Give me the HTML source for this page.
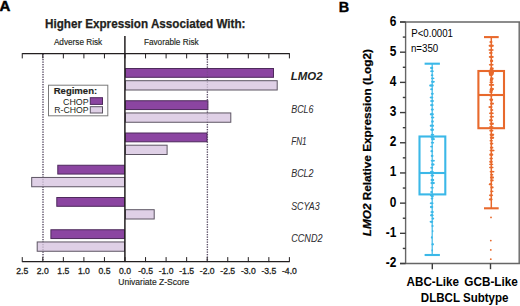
<!DOCTYPE html>
<html><head><meta charset="utf-8"><style>
html,body{margin:0;padding:0;background:#fff;width:520px;height:306px;overflow:hidden}
svg{display:block;font-family:"Liberation Sans", sans-serif}
</style></head><body>
<svg width="520" height="306" viewBox="0 0 520 306">
<text x="-0.5" y="10.8" font-size="15" font-weight="bold" fill="#000" stroke="#000" stroke-width="0.5">A</text>
<text x="45" y="27.6" font-size="11.9" font-weight="bold" fill="#231f20" stroke="#231f20" stroke-width="0.25" textLength="200.5" lengthAdjust="spacingAndGlyphs">Higher Expression Associated With:</text>
<text x="53.9" y="44.9" font-size="8.3" fill="#231f20" stroke="#231f20" stroke-width="0.15" textLength="48.3" lengthAdjust="spacingAndGlyphs">Adverse Risk</text>
<text x="143.9" y="44.9" font-size="8.3" fill="#231f20" stroke="#231f20" stroke-width="0.15" textLength="54.8" lengthAdjust="spacingAndGlyphs">Favorable Risk</text>
<line x1="43.00" y1="54" x2="43.00" y2="261" stroke="#5a4d66" stroke-width="1.3" stroke-dasharray="1.2 1.3"/>
<line x1="207.40" y1="54" x2="207.40" y2="261" stroke="#5a4d66" stroke-width="1.3" stroke-dasharray="1.2 1.3"/>
<rect x="125.50" y="68.50" width="148.00" height="8.8" fill="#8b45a1" stroke="#4e2a5c" stroke-width="1"/>
<rect x="125.50" y="80.70" width="151.70" height="9.3" fill="#dfd0e6" stroke="#5d5563" stroke-width="1"/>
<rect x="125.50" y="100.75" width="82.40" height="8.8" fill="#8b45a1" stroke="#4e2a5c" stroke-width="1"/>
<rect x="125.50" y="112.95" width="105.30" height="9.3" fill="#dfd0e6" stroke="#5d5563" stroke-width="1"/>
<rect x="125.50" y="133.00" width="81.50" height="8.8" fill="#8b45a1" stroke="#4e2a5c" stroke-width="1"/>
<rect x="125.50" y="145.20" width="41.60" height="9.3" fill="#dfd0e6" stroke="#5d5563" stroke-width="1"/>
<rect x="57.80" y="165.25" width="66.70" height="8.8" fill="#8b45a1" stroke="#4e2a5c" stroke-width="1"/>
<rect x="31.70" y="177.45" width="92.80" height="9.3" fill="#dfd0e6" stroke="#5d5563" stroke-width="1"/>
<rect x="56.80" y="197.50" width="67.70" height="8.8" fill="#8b45a1" stroke="#4e2a5c" stroke-width="1"/>
<rect x="125.50" y="209.70" width="28.70" height="9.3" fill="#dfd0e6" stroke="#5d5563" stroke-width="1"/>
<rect x="50.90" y="229.75" width="73.60" height="8.8" fill="#8b45a1" stroke="#4e2a5c" stroke-width="1"/>
<rect x="37.20" y="241.95" width="87.30" height="9.3" fill="#dfd0e6" stroke="#5d5563" stroke-width="1"/>
<text x="290.8" y="80.1" font-size="11" font-weight="bold" font-style="italic" fill="#231f20" textLength="31.8" lengthAdjust="spacingAndGlyphs">LMO2</text>
<text x="291.2" y="112.9" font-size="10" font-style="italic" fill="#2e2c2f" stroke="#2e2c2f" stroke-width="0.04" textLength="22.3" lengthAdjust="spacingAndGlyphs">BCL6</text>
<text x="291.2" y="145.1" font-size="10" font-style="italic" fill="#2e2c2f" stroke="#2e2c2f" stroke-width="0.04" textLength="15.5" lengthAdjust="spacingAndGlyphs">FN1</text>
<text x="291.2" y="177.4" font-size="10" font-style="italic" fill="#2e2c2f" stroke="#2e2c2f" stroke-width="0.04" textLength="22.3" lengthAdjust="spacingAndGlyphs">BCL2</text>
<text x="291.2" y="209.7" font-size="10" font-style="italic" fill="#2e2c2f" stroke="#2e2c2f" stroke-width="0.04" textLength="28.5" lengthAdjust="spacingAndGlyphs">SCYA3</text>
<text x="291.2" y="242.0" font-size="10" font-style="italic" fill="#2e2c2f" stroke="#2e2c2f" stroke-width="0.04" textLength="31.4" lengthAdjust="spacingAndGlyphs">CCND2</text>
<line x1="22.25" y1="53.6" x2="289.40" y2="53.6" stroke="#231f20" stroke-width="1.1"/>
<line x1="22.25" y1="261.7" x2="289.40" y2="261.7" stroke="#231f20" stroke-width="1.3"/>
<line x1="22.25" y1="53.1" x2="22.25" y2="58.4" stroke="#231f20" stroke-width="1"/>
<line x1="22.25" y1="257.1" x2="22.25" y2="262.1" stroke="#231f20" stroke-width="1"/>
<text x="22.25" y="274.4" font-size="8.6" fill="#231f20" stroke="#231f20" stroke-width="0.3" text-anchor="middle">2.5</text>
<line x1="42.80" y1="53.1" x2="42.80" y2="58.4" stroke="#231f20" stroke-width="1"/>
<line x1="42.80" y1="257.1" x2="42.80" y2="262.1" stroke="#231f20" stroke-width="1"/>
<text x="42.80" y="274.4" font-size="8.6" fill="#231f20" stroke="#231f20" stroke-width="0.3" text-anchor="middle">2.0</text>
<line x1="63.35" y1="53.1" x2="63.35" y2="58.4" stroke="#231f20" stroke-width="1"/>
<line x1="63.35" y1="257.1" x2="63.35" y2="262.1" stroke="#231f20" stroke-width="1"/>
<text x="63.35" y="274.4" font-size="8.6" fill="#231f20" stroke="#231f20" stroke-width="0.3" text-anchor="middle">1.5</text>
<line x1="83.90" y1="53.1" x2="83.90" y2="58.4" stroke="#231f20" stroke-width="1"/>
<line x1="83.90" y1="257.1" x2="83.90" y2="262.1" stroke="#231f20" stroke-width="1"/>
<text x="83.90" y="274.4" font-size="8.6" fill="#231f20" stroke="#231f20" stroke-width="0.3" text-anchor="middle">1.0</text>
<line x1="104.45" y1="53.1" x2="104.45" y2="58.4" stroke="#231f20" stroke-width="1"/>
<line x1="104.45" y1="257.1" x2="104.45" y2="262.1" stroke="#231f20" stroke-width="1"/>
<text x="104.45" y="274.4" font-size="8.6" fill="#231f20" stroke="#231f20" stroke-width="0.3" text-anchor="middle">0.5</text>
<line x1="125.00" y1="53.1" x2="125.00" y2="58.4" stroke="#231f20" stroke-width="1"/>
<line x1="125.00" y1="257.1" x2="125.00" y2="262.1" stroke="#231f20" stroke-width="1"/>
<text x="125.00" y="274.4" font-size="8.6" fill="#231f20" stroke="#231f20" stroke-width="0.3" text-anchor="middle">0.0</text>
<line x1="145.55" y1="53.1" x2="145.55" y2="58.4" stroke="#231f20" stroke-width="1"/>
<line x1="145.55" y1="257.1" x2="145.55" y2="262.1" stroke="#231f20" stroke-width="1"/>
<text x="145.55" y="274.4" font-size="8.6" fill="#231f20" stroke="#231f20" stroke-width="0.3" text-anchor="middle">-0.5</text>
<line x1="166.10" y1="53.1" x2="166.10" y2="58.4" stroke="#231f20" stroke-width="1"/>
<line x1="166.10" y1="257.1" x2="166.10" y2="262.1" stroke="#231f20" stroke-width="1"/>
<text x="166.10" y="274.4" font-size="8.6" fill="#231f20" stroke="#231f20" stroke-width="0.3" text-anchor="middle">-1.0</text>
<line x1="186.65" y1="53.1" x2="186.65" y2="58.4" stroke="#231f20" stroke-width="1"/>
<line x1="186.65" y1="257.1" x2="186.65" y2="262.1" stroke="#231f20" stroke-width="1"/>
<text x="186.65" y="274.4" font-size="8.6" fill="#231f20" stroke="#231f20" stroke-width="0.3" text-anchor="middle">-1.5</text>
<line x1="207.20" y1="53.1" x2="207.20" y2="58.4" stroke="#231f20" stroke-width="1"/>
<line x1="207.20" y1="257.1" x2="207.20" y2="262.1" stroke="#231f20" stroke-width="1"/>
<text x="207.20" y="274.4" font-size="8.6" fill="#231f20" stroke="#231f20" stroke-width="0.3" text-anchor="middle">-2.0</text>
<line x1="227.75" y1="53.1" x2="227.75" y2="58.4" stroke="#231f20" stroke-width="1"/>
<line x1="227.75" y1="257.1" x2="227.75" y2="262.1" stroke="#231f20" stroke-width="1"/>
<text x="227.75" y="274.4" font-size="8.6" fill="#231f20" stroke="#231f20" stroke-width="0.3" text-anchor="middle">-2.5</text>
<line x1="248.30" y1="53.1" x2="248.30" y2="58.4" stroke="#231f20" stroke-width="1"/>
<line x1="248.30" y1="257.1" x2="248.30" y2="262.1" stroke="#231f20" stroke-width="1"/>
<text x="248.30" y="274.4" font-size="8.6" fill="#231f20" stroke="#231f20" stroke-width="0.3" text-anchor="middle">-3.0</text>
<line x1="268.85" y1="53.1" x2="268.85" y2="58.4" stroke="#231f20" stroke-width="1"/>
<line x1="268.85" y1="257.1" x2="268.85" y2="262.1" stroke="#231f20" stroke-width="1"/>
<text x="268.85" y="274.4" font-size="8.6" fill="#231f20" stroke="#231f20" stroke-width="0.3" text-anchor="middle">-3.5</text>
<line x1="289.40" y1="53.1" x2="289.40" y2="58.4" stroke="#231f20" stroke-width="1"/>
<line x1="289.40" y1="257.1" x2="289.40" y2="262.1" stroke="#231f20" stroke-width="1"/>
<text x="289.40" y="274.4" font-size="8.6" fill="#231f20" stroke="#231f20" stroke-width="0.3" text-anchor="middle">-4.0</text>
<line x1="124.9" y1="35.9" x2="124.9" y2="262" stroke="#231f20" stroke-width="1.5"/>
<line x1="43.00" y1="54" x2="43.00" y2="261" stroke="#5a4d66" stroke-width="1.3" stroke-dasharray="1.2 1.3" opacity="0.3"/>
<line x1="207.40" y1="54" x2="207.40" y2="261" stroke="#5a4d66" stroke-width="1.3" stroke-dasharray="1.2 1.3" opacity="0.3"/>
<text x="118.3" y="284.6" font-size="8.5" fill="#231f20" stroke="#231f20" stroke-width="0.15" textLength="71" lengthAdjust="spacingAndGlyphs">Univariate Z-Score</text>
<rect x="48.5" y="85.2" width="59.3" height="30.6" fill="#fff" stroke="#7a7a7a" stroke-width="1"/>
<text x="53.7" y="93.6" font-size="9.6" font-weight="bold" fill="#231f20" stroke="#231f20" stroke-width="0.15" textLength="43.5" lengthAdjust="spacingAndGlyphs">Regimen:</text>
<text x="88.6" y="104.6" font-size="9.4" fill="#231f20" text-anchor="end" textLength="25.6" lengthAdjust="spacingAndGlyphs">CHOP</text>
<text x="88.6" y="113.4" font-size="9.4" fill="#231f20" text-anchor="end" textLength="34.3" lengthAdjust="spacingAndGlyphs">R-CHOP</text>
<rect x="90.3" y="97.7" width="12.2" height="6.7" fill="#8b45a1" stroke="#4e2a5c" stroke-width="1"/>
<rect x="90.3" y="106.7" width="12.2" height="6.3" fill="#dfd0e6" stroke="#5d5563" stroke-width="1"/>
<text x="338.7" y="11.6" font-size="14.4" font-weight="bold" fill="#000" stroke="#000" stroke-width="0.4">B</text>
<line x1="400" y1="22" x2="520" y2="22" stroke="#666666" stroke-width="1.4"/>
<line x1="519.2" y1="22" x2="519.2" y2="263.5" stroke="#666666" stroke-width="1.4"/>
<line x1="400" y1="263.5" x2="520" y2="263.5" stroke="#666666" stroke-width="1.4"/>
<line x1="405.6" y1="22" x2="405.6" y2="263.5" stroke="#666666" stroke-width="1.4"/>
<line x1="400" y1="22.00" x2="405.6" y2="22.00" stroke="#3c3c3c" stroke-width="1.4"/>
<text transform="translate(396.4,25.50) scale(0.85,1)" font-size="14" font-weight="bold" fill="#000" text-anchor="end">6</text>
<line x1="402.8" y1="37.09" x2="405.6" y2="37.09" stroke="#3c3c3c" stroke-width="1.4"/>
<line x1="400" y1="52.19" x2="405.6" y2="52.19" stroke="#3c3c3c" stroke-width="1.4"/>
<text transform="translate(396.4,55.69) scale(0.85,1)" font-size="14" font-weight="bold" fill="#000" text-anchor="end">5</text>
<line x1="402.8" y1="67.28" x2="405.6" y2="67.28" stroke="#3c3c3c" stroke-width="1.4"/>
<line x1="400" y1="82.38" x2="405.6" y2="82.38" stroke="#3c3c3c" stroke-width="1.4"/>
<text transform="translate(396.4,85.88) scale(0.85,1)" font-size="14" font-weight="bold" fill="#000" text-anchor="end">4</text>
<line x1="402.8" y1="97.47" x2="405.6" y2="97.47" stroke="#3c3c3c" stroke-width="1.4"/>
<line x1="400" y1="112.57" x2="405.6" y2="112.57" stroke="#3c3c3c" stroke-width="1.4"/>
<text transform="translate(396.4,116.07) scale(0.85,1)" font-size="14" font-weight="bold" fill="#000" text-anchor="end">3</text>
<line x1="402.8" y1="127.67" x2="405.6" y2="127.67" stroke="#3c3c3c" stroke-width="1.4"/>
<line x1="400" y1="142.76" x2="405.6" y2="142.76" stroke="#3c3c3c" stroke-width="1.4"/>
<text transform="translate(396.4,146.26) scale(0.85,1)" font-size="14" font-weight="bold" fill="#000" text-anchor="end">2</text>
<line x1="402.8" y1="157.85" x2="405.6" y2="157.85" stroke="#3c3c3c" stroke-width="1.4"/>
<line x1="400" y1="172.95" x2="405.6" y2="172.95" stroke="#3c3c3c" stroke-width="1.4"/>
<text transform="translate(396.4,176.45) scale(0.85,1)" font-size="14" font-weight="bold" fill="#000" text-anchor="end">1</text>
<line x1="402.8" y1="188.05" x2="405.6" y2="188.05" stroke="#3c3c3c" stroke-width="1.4"/>
<line x1="400" y1="203.14" x2="405.6" y2="203.14" stroke="#3c3c3c" stroke-width="1.4"/>
<text transform="translate(396.4,206.64) scale(0.85,1)" font-size="14" font-weight="bold" fill="#000" text-anchor="end">0</text>
<line x1="402.8" y1="218.24" x2="405.6" y2="218.24" stroke="#3c3c3c" stroke-width="1.4"/>
<line x1="400" y1="233.33" x2="405.6" y2="233.33" stroke="#3c3c3c" stroke-width="1.4"/>
<text transform="translate(396.4,236.83) scale(0.85,1)" font-size="14" font-weight="bold" fill="#000" text-anchor="end">-1</text>
<line x1="402.8" y1="248.43" x2="405.6" y2="248.43" stroke="#3c3c3c" stroke-width="1.4"/>
<line x1="400" y1="263.52" x2="405.6" y2="263.52" stroke="#3c3c3c" stroke-width="1.4"/>
<text transform="translate(396.4,267.02) scale(0.85,1)" font-size="14" font-weight="bold" fill="#000" text-anchor="end">-2</text>
<line x1="432.3" y1="263.5" x2="432.3" y2="269.2" stroke="#3c3c3c" stroke-width="1.4"/>
<line x1="490.5" y1="263.5" x2="490.5" y2="269.2" stroke="#3c3c3c" stroke-width="1.4"/>
<text transform="translate(370.8,236.3) rotate(-90) scale(1,0.96)" font-size="11.8" font-weight="bold" fill="#000" stroke="#000" stroke-width="0.25" textLength="187.3" lengthAdjust="spacingAndGlyphs"><tspan font-style="italic">LMO2</tspan> Relative Expression (Log2)</text>
<text x="411.2" y="36.9" font-size="10.7" fill="#000" textLength="41.8" lengthAdjust="spacingAndGlyphs">P&lt;0.0001</text>
<text x="410.9" y="51.5" font-size="10.7" fill="#000" textLength="27.4" lengthAdjust="spacingAndGlyphs">n=350</text>
<text x="406.6" y="285.8" font-size="12.6" font-weight="bold" fill="#000" textLength="52.4" lengthAdjust="spacingAndGlyphs">ABC-Like</text>
<text x="464.3" y="285.8" font-size="12.6" font-weight="bold" fill="#000" textLength="53.6" lengthAdjust="spacingAndGlyphs">GCB-Like</text>
<text x="420.8" y="302" font-size="12.6" font-weight="bold" fill="#000" textLength="87.7" lengthAdjust="spacingAndGlyphs">DLBCL Subtype</text>
<line x1="432.2" y1="63.7" x2="432.2" y2="255" stroke="#3bb8e8" stroke-width="1.2"/>
<ellipse cx="431.64" cy="68.00" rx="1.66" ry="1.16" fill="#3bb8e8"/>
<ellipse cx="431.99" cy="71.14" rx="1.89" ry="0.92" fill="#3bb8e8"/>
<ellipse cx="432.09" cy="75.16" rx="1.34" ry="0.93" fill="#3bb8e8"/>
<ellipse cx="432.72" cy="78.34" rx="1.77" ry="0.95" fill="#3bb8e8"/>
<ellipse cx="432.92" cy="81.79" rx="1.99" ry="1.13" fill="#3bb8e8"/>
<ellipse cx="431.47" cy="85.58" rx="2.37" ry="1.24" fill="#3bb8e8"/>
<ellipse cx="431.59" cy="89.16" rx="1.46" ry="1.02" fill="#3bb8e8"/>
<ellipse cx="432.33" cy="93.79" rx="1.50" ry="1.16" fill="#3bb8e8"/>
<ellipse cx="431.50" cy="97.54" rx="1.90" ry="0.92" fill="#3bb8e8"/>
<ellipse cx="432.08" cy="100.95" rx="2.05" ry="1.03" fill="#3bb8e8"/>
<ellipse cx="431.88" cy="105.12" rx="1.80" ry="1.22" fill="#3bb8e8"/>
<ellipse cx="432.32" cy="109.52" rx="1.57" ry="1.11" fill="#3bb8e8"/>
<ellipse cx="431.86" cy="114.27" rx="2.10" ry="1.29" fill="#3bb8e8"/>
<ellipse cx="432.61" cy="117.50" rx="1.76" ry="0.96" fill="#3bb8e8"/>
<ellipse cx="432.47" cy="121.48" rx="1.34" ry="1.21" fill="#3bb8e8"/>
<ellipse cx="431.90" cy="125.63" rx="2.26" ry="1.18" fill="#3bb8e8"/>
<ellipse cx="432.13" cy="129.82" rx="1.94" ry="1.24" fill="#3bb8e8"/>
<ellipse cx="432.46" cy="134.71" rx="1.82" ry="0.92" fill="#3bb8e8"/>
<ellipse cx="432.99" cy="139.11" rx="2.01" ry="1.23" fill="#3bb8e8"/>
<ellipse cx="432.47" cy="142.68" rx="1.72" ry="0.91" fill="#3bb8e8"/>
<ellipse cx="431.59" cy="146.60" rx="1.48" ry="0.92" fill="#3bb8e8"/>
<ellipse cx="431.80" cy="151.14" rx="1.44" ry="1.06" fill="#3bb8e8"/>
<ellipse cx="432.12" cy="155.88" rx="1.39" ry="1.12" fill="#3bb8e8"/>
<ellipse cx="432.78" cy="160.65" rx="2.20" ry="1.01" fill="#3bb8e8"/>
<ellipse cx="432.81" cy="164.48" rx="1.69" ry="1.28" fill="#3bb8e8"/>
<ellipse cx="431.77" cy="167.78" rx="1.49" ry="0.99" fill="#3bb8e8"/>
<ellipse cx="431.82" cy="171.75" rx="1.95" ry="0.90" fill="#3bb8e8"/>
<ellipse cx="432.31" cy="175.59" rx="1.71" ry="1.28" fill="#3bb8e8"/>
<ellipse cx="432.39" cy="179.97" rx="1.87" ry="1.17" fill="#3bb8e8"/>
<ellipse cx="432.65" cy="183.08" rx="2.29" ry="1.25" fill="#3bb8e8"/>
<ellipse cx="432.04" cy="187.67" rx="1.73" ry="0.94" fill="#3bb8e8"/>
<ellipse cx="431.51" cy="191.94" rx="1.37" ry="0.98" fill="#3bb8e8"/>
<ellipse cx="431.48" cy="195.27" rx="1.67" ry="0.90" fill="#3bb8e8"/>
<ellipse cx="431.98" cy="198.57" rx="1.41" ry="0.91" fill="#3bb8e8"/>
<ellipse cx="431.64" cy="203.32" rx="1.98" ry="1.00" fill="#3bb8e8"/>
<ellipse cx="431.60" cy="207.01" rx="1.70" ry="1.24" fill="#3bb8e8"/>
<ellipse cx="432.17" cy="212.00" rx="1.81" ry="0.93" fill="#3bb8e8"/>
<ellipse cx="431.82" cy="215.20" rx="1.68" ry="1.23" fill="#3bb8e8"/>
<ellipse cx="432.92" cy="218.53" rx="1.33" ry="1.11" fill="#3bb8e8"/>
<ellipse cx="431.44" cy="221.82" rx="1.90" ry="1.11" fill="#3bb8e8"/>
<ellipse cx="432.51" cy="226.00" rx="1.13" ry="1.00" fill="#3bb8e8"/>
<ellipse cx="432.64" cy="231.13" rx="0.78" ry="1.11" fill="#3bb8e8"/>
<ellipse cx="431.76" cy="237.40" rx="0.86" ry="1.22" fill="#3bb8e8"/>
<ellipse cx="432.69" cy="244.23" rx="1.13" ry="1.23" fill="#3bb8e8"/>
<ellipse cx="432.23" cy="250.39" rx="0.81" ry="1.04" fill="#3bb8e8"/>
<ellipse cx="432.20" cy="137.00" rx="1.8" ry="1.6" fill="#3bb8e8"/>
<ellipse cx="432.20" cy="196.00" rx="1.6" ry="1.6" fill="#3bb8e8"/>
<line x1="424.6" y1="63.7" x2="439.9" y2="63.7" stroke="#3bb8e8" stroke-width="2.1"/>
<line x1="424.6" y1="255" x2="439.9" y2="255" stroke="#3bb8e8" stroke-width="2.1"/>
<rect x="419.5" y="136.5" width="25.80000000000001" height="57.900000000000006" fill="none" stroke="#3bb8e8" stroke-width="2.1"/>
<line x1="419.5" y1="173" x2="445.3" y2="173" stroke="#3bb8e8" stroke-width="2.1"/>
<line x1="491.3" y1="37.1" x2="491.3" y2="208.3" stroke="#e8692c" stroke-width="1.5"/>
<ellipse cx="490.95" cy="42.00" rx="1.63" ry="1.00" fill="#e8692c"/>
<ellipse cx="491.22" cy="45.73" rx="2.75" ry="1.27" fill="#e8692c"/>
<ellipse cx="491.08" cy="49.96" rx="2.75" ry="0.99" fill="#e8692c"/>
<ellipse cx="490.83" cy="52.89" rx="1.84" ry="1.15" fill="#e8692c"/>
<ellipse cx="491.27" cy="56.97" rx="2.61" ry="1.16" fill="#e8692c"/>
<ellipse cx="491.56" cy="60.88" rx="1.70" ry="1.26" fill="#e8692c"/>
<ellipse cx="491.26" cy="64.76" rx="2.50" ry="0.97" fill="#e8692c"/>
<ellipse cx="491.78" cy="68.65" rx="2.00" ry="1.29" fill="#e8692c"/>
<ellipse cx="492.01" cy="71.88" rx="2.08" ry="1.19" fill="#e8692c"/>
<ellipse cx="490.74" cy="74.72" rx="1.75" ry="1.26" fill="#e8692c"/>
<ellipse cx="491.82" cy="78.64" rx="1.78" ry="1.29" fill="#e8692c"/>
<ellipse cx="491.38" cy="82.30" rx="2.02" ry="0.95" fill="#e8692c"/>
<ellipse cx="491.54" cy="84.88" rx="2.77" ry="1.11" fill="#e8692c"/>
<ellipse cx="491.89" cy="89.02" rx="2.12" ry="1.23" fill="#e8692c"/>
<ellipse cx="490.97" cy="91.92" rx="1.90" ry="1.00" fill="#e8692c"/>
<ellipse cx="491.17" cy="95.47" rx="1.91" ry="0.95" fill="#e8692c"/>
<ellipse cx="491.23" cy="99.57" rx="2.02" ry="1.13" fill="#e8692c"/>
<ellipse cx="491.97" cy="103.66" rx="2.10" ry="1.10" fill="#e8692c"/>
<ellipse cx="490.53" cy="107.11" rx="2.23" ry="1.08" fill="#e8692c"/>
<ellipse cx="491.78" cy="109.97" rx="1.60" ry="0.97" fill="#e8692c"/>
<ellipse cx="491.39" cy="113.33" rx="2.47" ry="1.03" fill="#e8692c"/>
<ellipse cx="491.75" cy="116.76" rx="2.27" ry="0.94" fill="#e8692c"/>
<ellipse cx="490.94" cy="120.26" rx="1.90" ry="1.21" fill="#e8692c"/>
<ellipse cx="491.72" cy="123.67" rx="2.27" ry="1.26" fill="#e8692c"/>
<ellipse cx="491.31" cy="126.98" rx="2.34" ry="1.10" fill="#e8692c"/>
<ellipse cx="491.35" cy="130.70" rx="2.14" ry="1.09" fill="#e8692c"/>
<ellipse cx="491.90" cy="134.85" rx="2.44" ry="1.28" fill="#e8692c"/>
<ellipse cx="492.01" cy="137.85" rx="2.27" ry="1.24" fill="#e8692c"/>
<ellipse cx="491.21" cy="140.63" rx="1.75" ry="0.93" fill="#e8692c"/>
<ellipse cx="491.57" cy="143.59" rx="1.69" ry="1.21" fill="#e8692c"/>
<ellipse cx="491.65" cy="147.66" rx="1.79" ry="1.16" fill="#e8692c"/>
<ellipse cx="492.05" cy="150.46" rx="2.66" ry="0.99" fill="#e8692c"/>
<ellipse cx="491.28" cy="154.63" rx="2.08" ry="1.30" fill="#e8692c"/>
<ellipse cx="491.19" cy="158.59" rx="1.79" ry="1.11" fill="#e8692c"/>
<ellipse cx="491.01" cy="161.72" rx="1.83" ry="1.19" fill="#e8692c"/>
<ellipse cx="491.20" cy="164.30" rx="2.26" ry="0.91" fill="#e8692c"/>
<ellipse cx="491.32" cy="167.41" rx="2.35" ry="0.93" fill="#e8692c"/>
<ellipse cx="492.05" cy="171.64" rx="2.55" ry="0.94" fill="#e8692c"/>
<ellipse cx="491.75" cy="174.64" rx="1.65" ry="1.01" fill="#e8692c"/>
<ellipse cx="491.96" cy="177.41" rx="2.11" ry="1.23" fill="#e8692c"/>
<ellipse cx="491.97" cy="180.40" rx="1.78" ry="1.13" fill="#e8692c"/>
<ellipse cx="490.59" cy="184.14" rx="1.71" ry="1.18" fill="#e8692c"/>
<ellipse cx="492.00" cy="187.41" rx="1.69" ry="1.15" fill="#e8692c"/>
<ellipse cx="491.87" cy="191.33" rx="1.70" ry="0.93" fill="#e8692c"/>
<ellipse cx="491.04" cy="195.34" rx="2.14" ry="1.12" fill="#e8692c"/>
<ellipse cx="490.71" cy="199.47" rx="1.92" ry="1.11" fill="#e8692c"/>
<ellipse cx="491.00" cy="217.40" rx="0.90" ry="0.90" fill="#e8692c"/>
<ellipse cx="490.80" cy="240.60" rx="0.90" ry="0.90" fill="#e8692c"/>
<ellipse cx="490.80" cy="249.90" rx="0.90" ry="0.90" fill="#e8692c"/>
<ellipse cx="490.80" cy="259.20" rx="0.90" ry="0.90" fill="#e8692c"/>
<ellipse cx="491.30" cy="72.50" rx="2.6" ry="3.4" fill="#e8692c"/>
<ellipse cx="491.30" cy="80.00" rx="1.6" ry="1.6" fill="#e8692c"/>
<ellipse cx="491.30" cy="90.00" rx="1.8" ry="1.5" fill="#e8692c"/>
<ellipse cx="491.30" cy="100.00" rx="1.6" ry="1.5" fill="#e8692c"/>
<line x1="484" y1="37.1" x2="498.7" y2="37.1" stroke="#e8692c" stroke-width="2.1"/>
<line x1="484" y1="208.3" x2="498.7" y2="208.3" stroke="#e8692c" stroke-width="2.1"/>
<rect x="478.4" y="71" width="25.600000000000023" height="57.19999999999999" fill="none" stroke="#e8692c" stroke-width="2.1"/>
<line x1="478.4" y1="95" x2="504.0" y2="95" stroke="#e8692c" stroke-width="2.1"/>
</svg>
</body></html>
